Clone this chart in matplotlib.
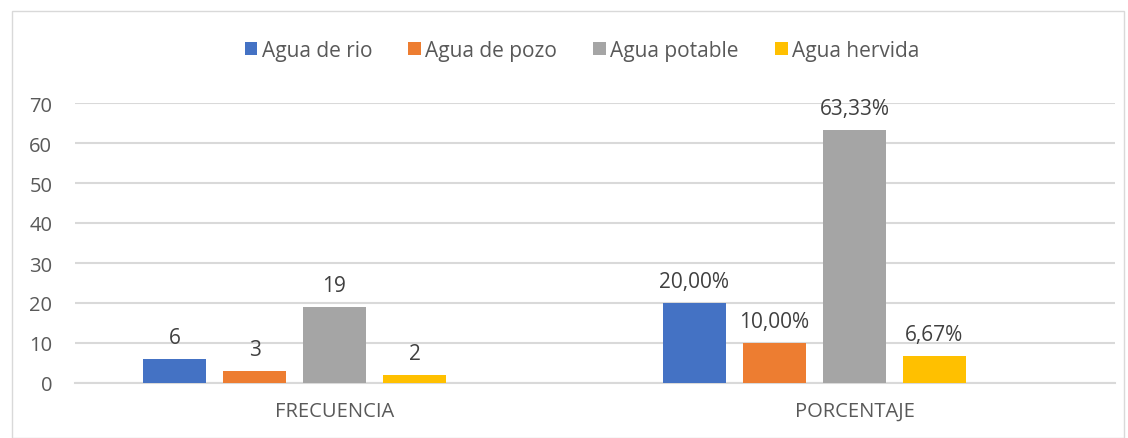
import numpy as np
import matplotlib.pyplot as plt
from matplotlib.patches import Rectangle

# data
categorias = ["FRECUENCIA", "PORCENTAJE"]
series = ["Agua de rio", "Agua de pozo", "Agua potable", "Agua hervida"]
valores = [[6, 20.00], [3, 10.00], [19, 63.33], [2, 6.67]]
etiquetas = [["6", "20,00%"], ["3", "10,00%"], ["19", "63,33%"], ["2", "6,67%"]]
colores = ["#4472C4", "#ED7D31", "#A5A5A5", "#FFC000"]
yticks = [0, 10, 20, 30, 40, 50, 60, 70]

plt.rcParams['font.family'] = ['Open Sans', 'DejaVu Sans']
texto = "#595959"

fig = plt.figure(figsize=(11.28, 4.39), dpi=100)
ax = fig.add_axes([74.5 / 1128, 55 / 439, 1040 / 1128, 280 / 439])

x = np.arange(len(categorias))
paso = 80 / 520
ancho = 63 / 520
# 5 slots per group (last one empty, like the original sheet)
for k, nombre in enumerate(series):
    pos = x + (k - 2) * paso
    bars = ax.bar(pos, valores[k], ancho, color=colores[k], label=nombre, zorder=3)
    for b, lab in zip(bars, etiquetas[k]):
        ax.annotate(lab, (b.get_x() + b.get_width() / 2, b.get_height()),
                    xytext=(0, 8), textcoords="offset points",
                    ha="center", va="bottom", fontsize=15, color="#404040")

ax.set_xlim(-0.5, 1.5)
ax.set_ylim(0, 70)
ax.set_yticks(yticks)
ax.set_xticks(x)
ax.set_xticklabels(categorias)
ax.grid(axis="y", color="#d9d9d9", linewidth=1.5, zorder=0)
for s in ["top", "right", "left"]:
    ax.spines[s].set_visible(False)
ax.spines["bottom"].set_color("#d9d9d9")
ax.spines["bottom"].set_linewidth(1.5)
ax.tick_params(length=0, labelsize=14.5, colors=texto)
ax.tick_params(axis="y", pad=16)
ax.tick_params(axis="x", pad=13)

ax.legend(loc="center", bbox_to_anchor=(582 / 1128, 1 - 51 / 439),
          bbox_transform=fig.transFigure, ncol=4, frameon=False,
          fontsize=15, labelcolor=texto, handlelength=0.6, handleheight=0.6,
          handletextpad=0.2, columnspacing=1.75)

fig.patches.append(Rectangle((12 / 1128, 0), 1112 / 1128, 427 / 439,
                             transform=fig.transFigure, fill=False,
                             edgecolor="#d9d9d9", linewidth=1))

fig.savefig("out.png", dpi=100)
